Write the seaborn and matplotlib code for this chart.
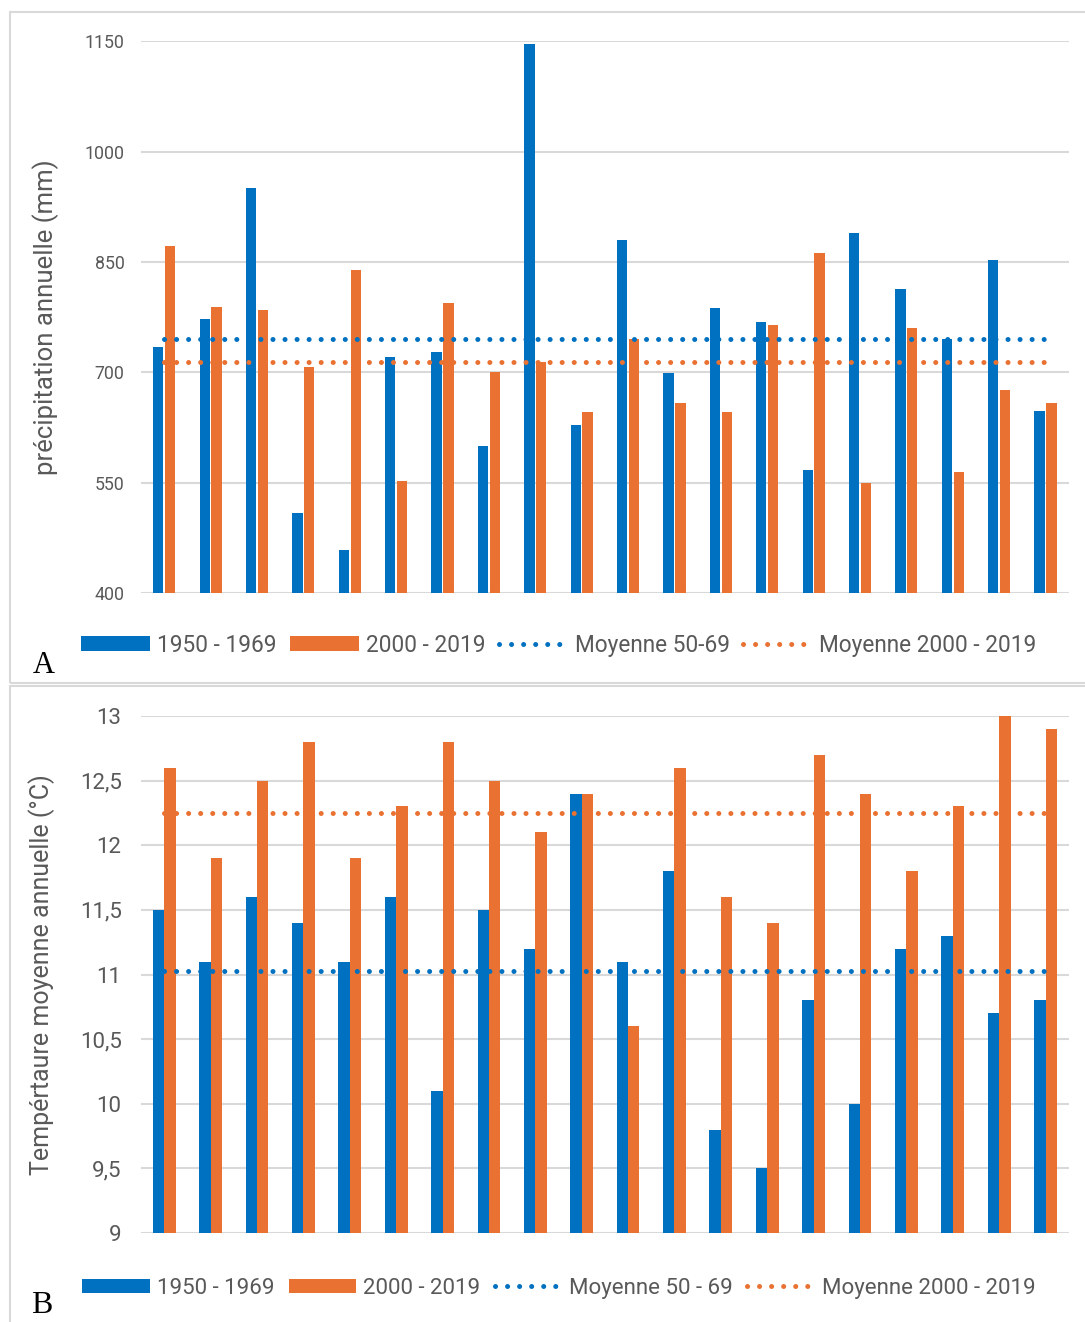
import numpy as np
import pandas as pd
import matplotlib.pyplot as plt
import seaborn as sns
from matplotlib.patches import Patch, Rectangle
from matplotlib.lines import Line2D

sns.set_theme(style="white")
plt.rcParams['font.family'] = ['Roboto', 'DejaVu Sans']

# rang de l'année dans chaque période (pas d'étiquettes sur l'axe x)
annees = list(range(1, 21))
periodes = ['1950 - 1969', '2000 - 2019']

# A : précipitation annuelle (mm)
pluie_1950_1969 = [734, 772, 950, 509, 458, 721, 727, 600, 1146, 628,
                   880, 699, 787, 768, 567, 889, 813, 745, 852, 647]
pluie_2000_2019 = [871, 789, 784, 707, 839, 552, 794, 700, 714, 646,
                   745, 658, 646, 764, 862, 549, 760, 564, 676, 658]
moyenne_pluie = [745, 714]
legende_pluie = ['1950 - 1969', '2000 - 2019', 'Moyenne 50-69', 'Moyenne 2000 - 2019']
pluie_ticks = [400, 550, 700, 850, 1000, 1150]

# B : température moyenne annuelle (°C)
temp_1950_1969 = [11.5, 11.1, 11.6, 11.4, 11.1, 11.6, 10.1, 11.5, 11.2, 12.4,
                  11.1, 11.8, 9.8, 9.5, 10.8, 10.0, 11.2, 11.3, 10.7, 10.8]
temp_2000_2019 = [12.6, 11.9, 12.5, 12.8, 11.9, 12.3, 12.8, 12.5, 12.1, 12.4,
                  10.6, 12.6, 11.6, 11.4, 12.7, 12.4, 11.8, 12.3, 13.0, 12.9]
moyenne_temp = [11.03, 12.25]
legende_temp = ['1950 - 1969', '2000 - 2019', 'Moyenne 50 - 69', 'Moyenne 2000 - 2019']
temp_ticks = [9, 9.5, 10, 10.5, 11, 11.5, 12, 12.5, 13]
temp_ticklabels = ['9', '9,5', '10', '10,5', '11', '11,5', '12', '12,5', '13']

bleu = '#0070C0'
orange = '#E97132'
gris = '#595959'
pointille = (0, (0.01, 2.4))
epaisseur = 3.6


def panneau(ax, serie_a, serie_b, moyennes, largeur, ecart):
    df = pd.DataFrame({
        'annee': annees * 2,
        'periode': [periodes[0]] * len(annees) + [periodes[1]] * len(annees),
        'valeur': serie_a + serie_b,
    })
    sns.barplot(data=df, x='annee', y='valeur', hue='periode',
                palette=[bleu, orange], saturation=1, width=largeur, gap=ecart,
                linewidth=0, legend=False, ax=ax, zorder=2)
    x = np.arange(len(annees))
    for m, c in zip(moyennes, [bleu, orange]):
        sns.lineplot(x=x, y=[m] * len(annees), color=c, lw=epaisseur,
                     linestyle=pointille, dash_capstyle='round', ax=ax, zorder=3)
    ax.set_xlim(-0.5, len(annees) - 0.5)
    ax.set_xticks([])
    ax.set_xlabel('')
    for s in ax.spines.values():
        s.set_visible(False)
    ax.yaxis.grid(True, color='#D9D9D9', lw=1.5)
    ax.set_axisbelow(True)


def legende(fig, ax, labels, y, taille, espace):
    handles = [
        Patch(facecolor=bleu, edgecolor='none'),
        Patch(facecolor=orange, edgecolor='none'),
        Line2D([0], [0], color=bleu, lw=epaisseur, linestyle=pointille, dash_capstyle='round'),
        Line2D([0], [0], color=orange, lw=epaisseur, linestyle=pointille, dash_capstyle='round'),
    ]
    ax.legend(handles, labels, loc='center', bbox_to_anchor=(0.515, y),
              bbox_transform=fig.transFigure, ncol=4, frameon=False,
              fontsize=taille, labelcolor=gris, handlelength=3.05,
              handleheight=0.6, handletextpad=0.3, columnspacing=espace)


fig = plt.figure(figsize=(10.85, 13.22), dpi=100)

# cadres des deux panneaux
fig.patches.append(Rectangle((0.0092, 0.4834), 1.0, 0.5076, transform=fig.transFigure,
                             fill=False, edgecolor='#D9D9D9', lw=1.5))
fig.patches.append(Rectangle((0.0092, -0.01), 1.0, 0.491, transform=fig.transFigure,
                             fill=False, edgecolor='#D9D9D9', lw=1.5))

# --- A ---
axA = fig.add_axes([0.130, 0.5514, 0.855, 0.4175])
panneau(axA, pluie_1950_1969, pluie_2000_2019, moyenne_pluie, 0.51, 0.13)
axA.set_ylim(400, 1150)
axA.set_yticks(pluie_ticks)
axA.tick_params(axis='y', length=0, labelsize=12.8, labelcolor=gris, pad=12)
axA.set_ylabel('précipitation annuelle (mm)', fontsize=18.5, color=gris)
axA.yaxis.set_label_coords(-0.088, 0.5)
legende(fig, axA, legende_pluie, 0.512, 16.3, 0.6)
fig.text(33 / 1085, 1 - 673 / 1322, 'A', fontsize=22, family='Liberation Serif',
         color='black', va='baseline')

# --- B ---
axB = fig.add_axes([0.130, 0.0673, 0.855, 0.3911])
panneau(axB, temp_1950_1969, temp_2000_2019, moyenne_temp, 0.49, 0)
axB.set_ylim(9, 13)
axB.set_yticks(temp_ticks)
axB.set_yticklabels(temp_ticklabels)
axB.tick_params(axis='y', length=0, labelsize=16, labelcolor=gris, pad=14)
axB.set_ylabel('Tempértaure moyenne annuelle (°C)', fontsize=18, color=gris)
axB.yaxis.set_label_coords(-0.093, 0.5)
legende(fig, axB, legende_temp, 0.0257, 16, 0.65)
fig.text(31 / 1085, 1 - 1313 / 1322, 'B', fontsize=23, family='Liberation Serif',
         color='black', va='baseline')

fig.savefig('out.png', dpi=100)
